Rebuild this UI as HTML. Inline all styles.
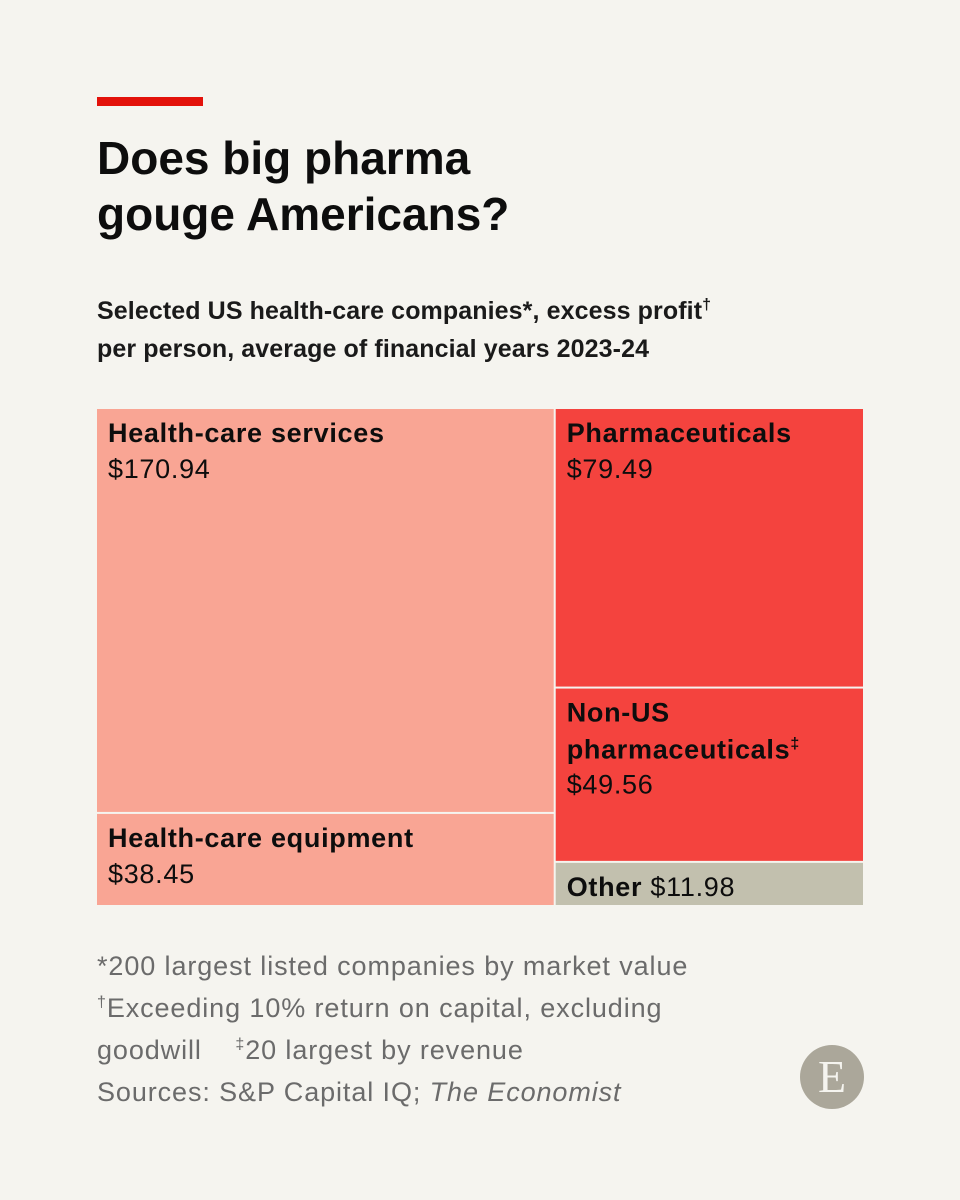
<!DOCTYPE html>
<html><head><meta charset="utf-8">
<style>
html,body{margin:0;padding:0;background:#f5f4ef;}
body{width:960px;height:1200px;position:relative;overflow:hidden;font-family:"Liberation Sans",sans-serif;color:#0d0d0d;}
.abs{position:absolute;}
#title{left:97px;top:130px;font-size:46px;font-weight:bold;line-height:56px;letter-spacing:0px;}
#sub{left:97px;top:292px;font-size:25px;font-weight:bold;line-height:38px;color:#1a1a1a;letter-spacing:0.1px;}
#notes{left:97px;top:945px;font-size:27px;line-height:42px;color:#6b6b6b;letter-spacing:0.9px;}
sup{font-size:16px;line-height:0;}
</style></head><body>
<div class="abs" style="left:97px;top:97px;width:106px;height:9px;background:#e3120b"></div>
<div id="title" class="abs">Does big pharma<br>gouge Americans?</div>
<div id="sub" class="abs">Selected US health-care companies*, excess profit<sup>†</sup><br>per person, average of financial years 2023-24</div>
<svg class="abs" style="left:0;top:0" width="960" height="1200" id="chart"></svg>
<div id="notes" class="abs">*200 largest listed companies by market value<br><sup>†</sup>Exceeding 10% return on capital, excluding<br>goodwill &nbsp;&nbsp;&nbsp;<sup>‡</sup>20 largest by revenue<br>Sources: S&amp;P Capital IQ; <i>The Economist</i></div>
<div class="abs" style="left:800px;top:1045px;width:64px;height:64px;border-radius:50%;background:#aba79a;color:#f5f4ef;font-family:'Liberation Serif',serif;font-size:46px;text-align:center;line-height:64px">E</div>
<script>
const leftNames=["Health-care services","Health-care equipment"];
const leftValues=[170.94,38.45];
const rightNames=["Pharmaceuticals","Non-US pharmaceuticals‡","Other"];
const rightValues=[79.49,49.56,11.98];
const X0=97,X1=863,Y0=409,Y1=905,G=2;
const svg=document.getElementById('chart');
const NS="http://www.w3.org/2000/svg";
const sum=a=>a.reduce((s,v)=>s+v,0);
const total=sum(leftValues)+sum(rightValues);
const xSplit=X0+(X1-X0)*sum(leftValues)/total;
function col(names,vals,xa,xb,colors,slug){
  const t=sum(vals);let y=Y0;
  vals.forEach((v,i)=>{
    const h=(Y1-Y0)*v/t;
    const r=document.createElementNS(NS,'rect');
    r.setAttribute('x',xa);r.setAttribute('y',y);
    r.setAttribute('width',xb-xa);r.setAttribute('height',Math.max(0,h-(i<vals.length-1?G:0)));
    r.setAttribute('fill',colors[i]);
    
    
    svg.appendChild(r);
    const lbl=document.createElementNS(NS,'text');
    lbl.setAttribute('font-size','27');
    lbl.setAttribute('letter-spacing','0.7');
    lbl.setAttribute('fill','#0d0d0d');
    
    
    const name=names[i], val='$'+v.toFixed(2);
    if(name==="Other"){
      lbl.setAttribute('x',xa+11);lbl.setAttribute('y',y+h-9);
      lbl.innerHTML='<tspan font-weight="bold">Other</tspan> '+val;
    } else {
      let lines=name.startsWith("Non-US")?["Non-US","pharmaceuticals‡"]:[name];
      let html='';
      lines.forEach((l,k)=>{
        l=l.replace('‡','<tspan font-size="16" dy="-10">‡</tspan><tspan dy="10"></tspan>');
        html+='<tspan x="'+(xa+11)+'" y="'+(y+33+k*37)+'" font-weight="bold">'+l+'</tspan>';
      });
      html+='<tspan x="'+(xa+11)+'" y="'+(y+33+lines.length*36)+'">'+val+'</tspan>';
      lbl.innerHTML=html;
    }
    svg.appendChild(lbl);
    y+=h;
  });
}
col(leftNames,leftValues,X0,xSplit-1,["#f9a594","#f9a594"],["health-care-services","health-care-equipment"]);
col(rightNames,rightValues,xSplit+1,X1,["#f4433e","#f4433e","#c2c0ae"],["pharmaceuticals","non-us-pharmaceuticals","other"]);
</script>
</body></html>
